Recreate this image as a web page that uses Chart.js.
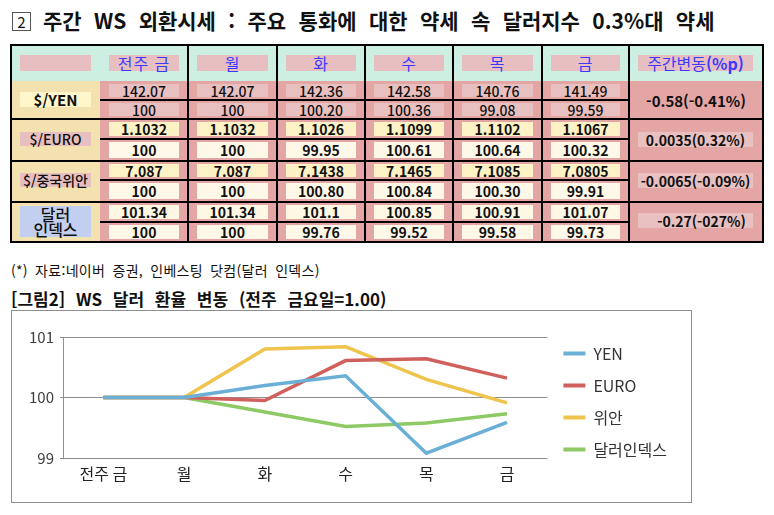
<!DOCTYPE html>
<html lang="ko">
<head>
<meta charset="utf-8">
<script src="https://cdn.jsdelivr.net/npm/chart.js@4"></script>
<style>
  body { margin: 0; width: 774px; height: 515px; position: relative; background: #fff; overflow: hidden;
         font-family: 'Noto Sans CJK KR', 'Noto Sans', sans-serif; color: #111; }
  .abs { position: absolute; white-space: nowrap; }
  .cell { position: absolute; display: flex; align-items: center; justify-content: center; white-space: nowrap; }
</style>
</head>
<body>
<div class="abs" style="left:12px;top:12px;width:17px;height:17px;border:1px solid #555;font-size:15px;line-height:17px;text-align:center;">2</div>
<div class="abs" style="left:43px;top:7px;font-size:21px;font-weight:700;line-height:27px;word-spacing:6.5px;">주간 WS 외환시세 : 주요 통화에 대한 약세 속 달러지수 0.3%대 약세</div>
<div id="tbl"></div>
<div class="abs" style="left:11px;top:261px;font-size:14px;line-height:19px;word-spacing:3px;letter-spacing:0.3px;">(*) 자료:네이버 증권, 인베스팅 닷컴(달러 인덱스)</div>
<div class="abs" style="left:11px;top:288px;font-size:17px;font-weight:700;line-height:22px;word-spacing:6px;">[그림2] WS 달러 환율 변동 (전주 금요일=1.00)</div>
<div class="abs" style="left:11px;top:310px;width:681px;height:193px;box-sizing:border-box;border:1.5px solid #8e8e8e;"></div>
<canvas id="chart" width="679" height="191" style="position:absolute;left:12px;top:311px;"></canvas>
<script>
// 요일 / 통화
const days = ['전주 금', '월', '화', '수', '목', '금'];
const currencies = ['$/YEN', '$/EURO', '$/중국위안', '달러<br>인덱스'];

// 환율 (윗줄) 과 전주 금요일=100 지수 (아랫줄)
const yenRate  = ['142.07', '142.07', '142.36', '142.58', '140.76', '141.49'];
const yenIdx   = ['100', '100', '100.20', '100.36', '99.08', '99.59'];
const euroRate = ['1.1032', '1.1032', '1.1026', '1.1099', '1.1102', '1.1067'];
const euroIdx  = ['100', '100', '99.95', '100.61', '100.64', '100.32'];
const cnyRate  = ['7.087', '7.087', '7.1438', '7.1465', '7.1085', '7.0805'];
const cnyIdx   = ['100', '100', '100.80', '100.84', '100.30', '99.91'];
const dxyRate  = ['101.34', '101.34', '101.1', '100.85', '100.91', '101.07'];
const dxyIdx   = ['100', '100', '99.76', '99.52', '99.58', '99.73'];
const weeklyChange = ['-0.58(-0.41%)', '0.0035(0.32%)', '-0.0065(-0.09%)', '-0.27(-027%)'];

// 그래프
const seriesNames = ['YEN', 'EURO', '위안', '달러인덱스'];
const yTicks = [99, 100, 101];

// ---- table layout ----
const colX = [11, 100, 188, 277, 365, 453, 542, 629, 763];
const rowY = [81, 100, 119, 139, 161, 180, 202, 222, 242];
const tbl = document.getElementById('tbl');

function cell(x, y, w, h, css, html) {
  const d = document.createElement('div');
  d.className = 'cell';
  d.style.cssText = `left:${x}px;top:${y}px;width:${w}px;height:${h}px;${css || ''}`;
  d.innerHTML = html || '';
  tbl.appendChild(d);
}

cell(11, 45, 752, 36, 'background:#cdefe2');
cell(11, 81, 89, 161, 'background:#f4e1b0');
cell(100, 81, 663, 161, 'background:#e4a5a5');

// header
const headCss = 'background:#e8bfc0;color:#3b3bff;font-size:16px;letter-spacing:1px;';
cell(20, 55, 71, 16, 'background:#e8bfc0');
days.forEach((d, i) => {
  cell(colX[i + 1] + 9, 55, colX[i + 2] - colX[i + 1] - 18, 16, headCss, d);
});
cell(638, 55, 115, 16, headCss.replace('letter-spacing:1px;', ''), '주간변동<b>(%p)</b>');

// body
const groups = [
  { rate: yenRate,  idx: yenIdx,  bg1: '#e9c0c0', bg2: '#e9c0c0', w: 500 },
  { rate: euroRate, idx: euroIdx, bg1: '#fdf1c6', bg2: '#fef8e9', w: 700 },
  { rate: cnyRate,  idx: cnyIdx,  bg1: '#fdf1c6', bg2: '#fef8e9', w: 700 },
  { rate: dxyRate,  idx: dxyIdx,  bg1: '#fef7e4', bg2: '#fef8e9', w: 700 },
];
groups.forEach((g, gi) => {
  const y0 = rowY[gi * 2], y1 = rowY[gi * 2 + 1], y2 = rowY[gi * 2 + 2];
  for (let i = 0; i < 6; i++) {
    const x = colX[i + 1] + 9, w = colX[i + 2] - colX[i + 1] - 18;
    cell(x, y0 + 3, w, y1 - y0 - 6, `background:${g.bg1};font-size:14px;font-weight:${g.w}`, g.rate[i]);
    cell(x, y1 + 3, w, y2 - y1 - 6, `background:${g.bg2};font-size:14px;font-weight:${g.w}`, g.idx[i]);
  }
});

// first column labels
cell(20, 92, 71, 15, 'background:#fff6cb;font-size:15px;font-weight:700', currencies[0]);
cell(20, 132, 71, 14, 'background:#e8bfc0;font-size:14px;font-weight:500', currencies[1]);
cell(20, 173, 71, 14, 'background:#e8bfc0;font-size:14px;font-weight:500', currencies[2]);
cell(20, 206, 71, 31, 'background:#c3cff0;font-size:16px;line-height:15px;text-align:center;font-weight:500', currencies[3]);

// weekly change column
cell(629, 81, 134, 38, 'font-size:15px;font-weight:600', weeklyChange[0]);
cell(638, 132, 115, 15, 'background:#e8c0c0;font-size:14px;font-weight:600', weeklyChange[1]);
cell(638, 173, 115, 15, 'background:#e8c0c0;font-size:14px;font-weight:600', weeklyChange[2]);
cell(638, 213, 115, 15, 'background:#e8c0c0;font-size:14px;font-weight:600;padding-left:12px;box-sizing:border-box', weeklyChange[3]);

// grid lines
const lw = 1.5;
[0, 2, 3, 4, 5, 6, 7, 8].forEach(i => cell(colX[i] - lw / 2, 45 - lw / 2, lw, 197 + lw, 'background:#000'));
[45, 119, 161, 202, 242].forEach(y => cell(11 - lw / 2, y - lw / 2, 752 + lw, lw, 'background:#000'));
[100, 139, 180, 222].forEach(y => cell(100, y - lw / 2, 529, lw, 'background:#000'));

// ---- chart ----
Chart.defaults.font.family = "'Noto Sans CJK KR', 'Noto Sans', sans-serif";
const idxSeries = [yenIdx, euroIdx, cnyIdx, dxyIdx];
const lineColors = ['#6aafd6', '#d0605c', '#efc44d', '#8dc965'];

// legend box is full height; lift it so the items sit beside the plot
const legendLift = {
  id: 'legendLift',
  afterLayout(chart) {
    chart.legend.top -= 18;
    chart.legend.bottom -= 18;
  }
};

new Chart(document.getElementById('chart'), {
  type: 'line',
  data: {
    labels: days,
    datasets: seriesNames.map((name, i) => ({
      label: name,
      data: idxSeries[i].map(Number),
      borderColor: lineColors[i],
      backgroundColor: lineColors[i],
      borderWidth: 3.5,
      pointRadius: 0,
      tension: 0,
    }))
  },
  plugins: [legendLift],
  options: {
    responsive: false,
    animation: false,
    devicePixelRatio: 1,
    layout: { padding: { top: 26, right: 14, bottom: 0, left: 0 } },
    plugins: {
      tooltip: { enabled: false },
      legend: {
        position: 'right',
        labels: {
          boxWidth: 22,
          boxHeight: 4,
          padding: 16,
          color: '#333',
          font: { size: 16 },
          generateLabels: (chart) => Chart.defaults.plugins.legend.labels.generateLabels(chart)
            .map(l => ({ ...l, lineWidth: 0, fillStyle: l.strokeStyle })),
        }
      }
    },
    scales: {
      x: {
        offset: true,
        grid: { display: false },
        border: { display: false },
        ticks: { color: '#222', font: { size: 16 }, padding: -2, maxRotation: 0 },
        afterFit: (s) => { s.height = 44; },
      },
      y: {
        min: yTicks[0],
        max: yTicks[yTicks.length - 1],
        afterBuildTicks: (s) => { s.ticks = yTicks.map(v => ({ value: v })); },
        grid: { color: '#8e8e8e', lineWidth: 1, tickLength: 3 },
        border: { display: true, color: '#8e8e8e', width: 1 },
        ticks: { color: '#404040', font: { size: 15 }, padding: 6 },
        afterFit: (s) => { s.width = 51; },
      }
    }
  }
});
</script>
</body>
</html>
